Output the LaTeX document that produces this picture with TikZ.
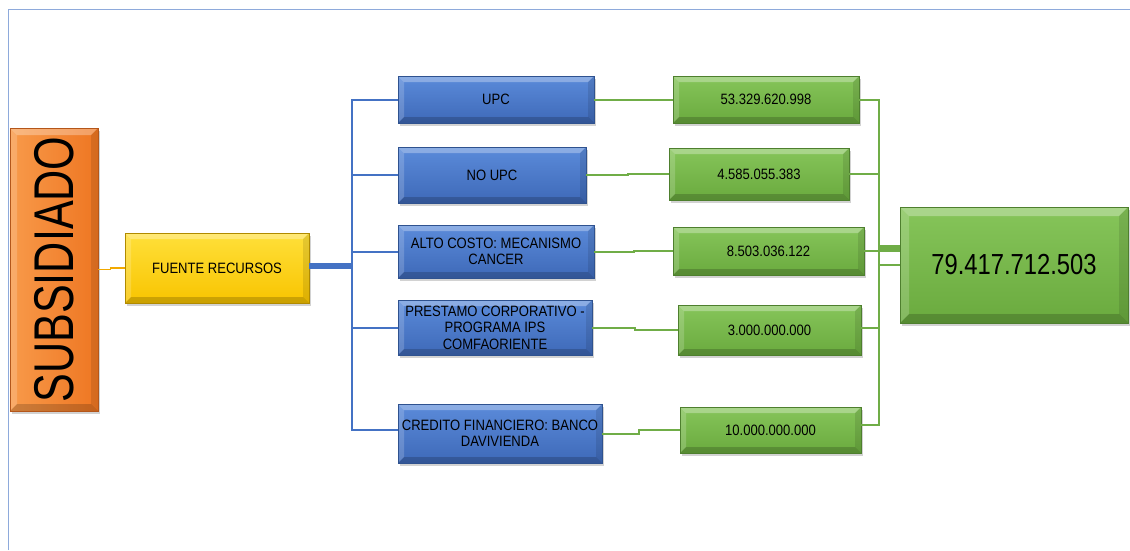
\documentclass[tikz,border=0pt]{standalone}
\usepackage{fontspec}
\setmainfont{Liberation Sans}[FakeStretch=0.87]
\newfontfamily\bigfont{Liberation Sans}[FakeStretch=0.77]
\newfontfamily\totfont{Liberation Sans}[FakeStretch=0.82]
\usetikzlibrary{shadows}
\definecolor{frameblue}{HTML}{8EAADB}
\definecolor{bluetop}{HTML}{5B8BDA}
\definecolor{bluebot}{HTML}{3E69B8}
\definecolor{blueedge}{HTML}{2F528F}
\definecolor{blueline}{HTML}{4472C4}
\definecolor{greentop}{HTML}{86C55A}
\definecolor{greenbot}{HTML}{6AAA3E}
\definecolor{greenedge}{HTML}{4E7F2E}
\definecolor{greenline}{HTML}{70AD47}
\definecolor{yeltop}{HTML}{FFE03A}
\definecolor{yelbot}{HTML}{F8C400}
\definecolor{yeledge}{HTML}{B08A00}
\definecolor{orgtop}{HTML}{F89A4A}
\definecolor{orgbot}{HTML}{EE7622}
\definecolor{orgedge}{HTML}{B4561A}
\definecolor{orgline}{HTML}{F2A900}
\tikzset{
  bev/.default=6pt,
  bev/.style={path picture={
    \fill[white,opacity=0.30] (path picture bounding box.north west) -- (path picture bounding box.north east) -- ([xshift=-#1,yshift=-#1]path picture bounding box.north east) -- ([xshift=#1,yshift=-#1]path picture bounding box.north west) -- cycle;
    \fill[white,opacity=0.18] (path picture bounding box.north west) -- ([xshift=#1,yshift=-#1]path picture bounding box.north west) -- ([xshift=#1,yshift=#1]path picture bounding box.south west) -- (path picture bounding box.south west) -- cycle;
    \fill[black,opacity=0.18] (path picture bounding box.south west) -- (path picture bounding box.south east) -- ([xshift=-#1,yshift=#1]path picture bounding box.south east) -- ([xshift=#1,yshift=#1]path picture bounding box.south west) -- cycle;
    \fill[black,opacity=0.10] (path picture bounding box.north east) -- ([xshift=-#1,yshift=-#1]path picture bounding box.north east) -- ([xshift=-#1,yshift=#1]path picture bounding box.south east) -- (path picture bounding box.south east) -- cycle;
  }},
  box/.style={rectangle, inner sep=0pt, align=center, line width=0.6pt,
    font=\fontsize{15}{16.5}\selectfont,
    drop shadow={shadow xshift=1.5pt, shadow yshift=-2.5pt, opacity=0.35}},
  bluebox/.style={box, top color=bluetop, bottom color=bluebot, draw=blueedge, bev},
  greenbox/.style={box, top color=greentop, bottom color=greenbot, draw=greenedge, bev},
  yelbox/.style={box, top color=yeltop, bottom color=yelbot, draw=yeledge, bev},
  orgbox/.style={box, left color=orgtop, right color=orgbot, draw=orgedge, bev=7pt},
  bl/.style={draw=blueline, line width=2pt},
  gl/.style={draw=greenline, line width=2pt},
}
\begin{document}
\begin{tikzpicture}[x=1pt,y=-1pt]
\useasboundingbox (0,0) rectangle (1130,550);
\fill[white] (0,0) rectangle (1130,550);
\draw[frameblue, line width=1pt] (8,550) -- (8,9) -- (1130,9);

% nodes
\node[orgbox, minimum width=88pt, minimum height=283pt] (sub) at (54,269.5)
  {\rotatebox{90}{\bigfont\fontsize{56}{56}\selectfont SUBSIDIADO}};
\node[yelbox, minimum width=184pt, minimum height=70pt] (fr) at (217,268) {FUENTE RECURSOS};

\node[bluebox, minimum width=196pt, minimum height=47pt] (upc) at (496,99.5) {UPC};
\node[bluebox, minimum width=188pt, minimum height=56pt] (noupc) at (492,175) {NO UPC};
\node[bluebox, minimum width=196pt, minimum height=53pt] (alto) at (496,251.5) {ALTO COSTO: MECANISMO\\CANCER};
\node[bluebox, minimum width=194pt, minimum height=55pt] (prest) at (495,327.5) {PRESTAMO CORPORATIVO -\\PROGRAMA IPS\\COMFAORIENTE};
\node[bluebox, minimum width=204pt, minimum height=59pt] (cred) at (500,433.5) {CREDITO FINANCIERO: BANCO\\DAVIVIENDA};

\node[greenbox, minimum width=186pt, minimum height=47pt] (v1) at (766,99.5) {53.329.620.998};
\node[greenbox, minimum width=180pt, minimum height=52pt] (v2) at (759,174) {4.585.055.383};
\node[greenbox, minimum width=191pt, minimum height=48pt] (v3) at (768.5,251) {8.503.036.122};
\node[greenbox, minimum width=183pt, minimum height=50pt] (v4) at (769.5,330) {3.000.000.000};
\node[greenbox, minimum width=181pt, minimum height=46pt] (v5) at (770.5,430) {10.000.000.000};

\node[greenbox, bev=9pt, minimum width=228pt, minimum height=116pt, font=\totfont\fontsize{29}{30}\selectfont] (tot) at (1014,265) {79.417.712.503};

% bus coordinates
\coordinate (bus) at (352,266);
\coordinate (gbus) at (879,248);

% connectors
\draw[orgline, line width=1.5pt] (sub.east) -- ++(12,0) |- (fr.west);
\draw[blueline, line width=6pt] (fr.east |- bus) -- (bus);
\draw[bl] (upc.west) -| (bus);
\draw[bl] (noupc.west) -| (bus);
\draw[bl] (alto.west) -| (bus);
\draw[bl] (prest.west) -| (bus);
\draw[bl] ([yshift=3.5pt]cred.west) -| (bus);

\draw[gl] (upc.east) -- ++(38,0) |- (v1.west);
\draw[gl] (noupc.east) -- ++(42,0) |- (v2.west);
\draw[gl] (alto.east) -- ++(40,0) |- (v3.west);
\draw[gl] (prest.east) -- ++(43,0) |- (v4.west);
\draw[gl] (cred.east) -- ++(37,0) |- (v5.west);

\draw[gl] (v1.east) -| (gbus);
\draw[gl] (v2.east) -| (gbus);
\draw[gl] (v3.east) -| (gbus);
\draw[gl] ([yshift=2pt]v4.east) -| (gbus);
\draw[gl] ([yshift=5pt]v5.east) -| (gbus);
\draw[greenline, line width=7pt] (gbus) -- (gbus -| tot.west);
\draw[gl] (tot.west) -- (tot.west -| gbus);
\end{tikzpicture}
\end{document}
